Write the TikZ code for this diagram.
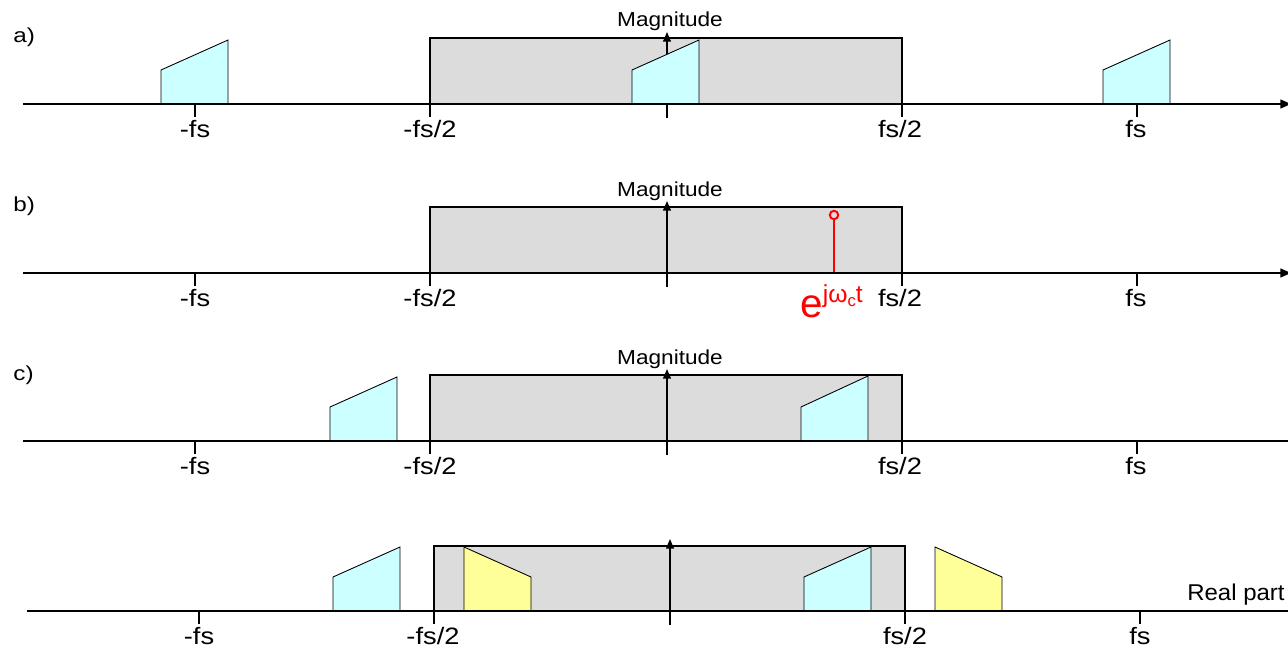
\documentclass[tikz,border=0pt]{standalone}
\usepackage{fontspec}
\setmainfont{Liberation Sans}
\usetikzlibrary{arrows.meta}
\definecolor{nyqfill}{HTML}{DCDCDC}
\definecolor{img}{HTML}{CCFFFF}
\definecolor{mir}{HTML}{FFFF99}
\definecolor{tone}{HTML}{FF0000}
\tikzset{
  nyq/.style={draw=black,line width=0.75pt,fill=nyqfill},
  ax/.style={line width=0.9pt},
  axar/.style={ax,-{Triangle[length=6pt,width=5pt]}},
  tk/.style={line width=0.8pt},
  mag/.style={line width=0.8pt,-{Triangle[length=5.5pt,width=4.5pt]}},
  up/.style={draw=black,line width=0.5pt,fill=img},
  dn/.style={draw=black,line width=0.5pt,fill=mir},
  tlbl/.style={anchor=base,inner sep=0pt,xscale=1.15,font=\fontsize{13.5}{13.5}\selectfont},
  maglbl/.style={anchor=base,inner sep=0pt,xscale=1.12,font=\fontsize{11.5}{11.5}\selectfont},
  tag/.style={anchor=base west,inner sep=0pt,xscale=1.2,font=\fontsize{11.5}{11.5}\selectfont},
}
\begin{document}
\begin{tikzpicture}[x=0.02cm,y=-0.02cm]
\useasboundingbox (0,0) rectangle (1288,652);

% a) sampled spectrum with images
\node[tag] (taga) at (13,43) {a)};
\draw[nyq] (430,38) rectangle (902,104);
\coordinate (ma0) at (667,118); \coordinate (ma1) at (667,32);
\draw[mag] (ma0) -- (ma1);
\node[maglbl] (maga) at (670,27) {Magnitude};
\draw[up] (161,104) -- (161,70) -- (228,40) -- (228,104) -- cycle;
\draw[up] (632,104) -- (632,70) -- (699,40) -- (699,104) -- cycle;
\draw[up] (1103,104) -- (1103,70) -- (1170,40) -- (1170,104) -- cycle;
\coordinate (xa0) at (23,104); \coordinate (xa1) at (1291,104);
\draw[axar] (xa0) -- (xa1);
\foreach \x in {195,430,667,902,1137} \draw[tk] (\x,104) -- ++(0,13);
\node[tlbl] (a1) at (195,137) {-fs};
\node[tlbl] (a2) at (430,137) {-fs/2};
\node[tlbl] (a3) at (900,137) {fs/2};
\node[tlbl] (a4) at (1136,137) {fs};

% b) complex tone
\node[tag] (tagb) at (13,211) {b)};
\draw[nyq] (430,207) rectangle (902,273);
\coordinate (mb0) at (667,287); \coordinate (mb1) at (667,201);
\draw[mag] (mb0) -- (mb1);
\node[maglbl] (magb) at (670,196) {Magnitude};
\coordinate (st0) at (834,273); \coordinate (st1) at (834,219);
\draw[tone,line width=1.5pt] (st0) -- (st1);
\draw[tone,line width=1.1pt] (834,215) circle[radius=2.4pt];
\coordinate (xb0) at (23,273); \coordinate (xb1) at (1291,273);
\draw[axar] (xb0) -- (xb1);
\foreach \x in {195,430,667,902,1137} \draw[tk] (\x,273) -- ++(0,13);
\node[tlbl] (b1) at (195,306) {-fs};
\node[tlbl] (b2) at (430,306) {-fs/2};
\node[tlbl] (b3) at (900,306) {fs/2};
\node[tlbl] (b4) at (1136,306) {fs};
\node[anchor=base west,inner sep=0pt,text=tone] (ejw) at (800,317)
  {\fontsize{23}{23}\selectfont e\raisebox{8pt}{\fontsize{14}{14}\selectfont jω\raisebox{-2.3pt}{\fontsize{9.5}{9.5}\selectfont c}t}};

% c) shifted spectrum
\node[tag] (tagc) at (13,380) {c)};
\draw[nyq] (430,375) rectangle (902,441);
\coordinate (mc0) at (667,455); \coordinate (mc1) at (667,369);
\draw[mag] (mc0) -- (mc1);
\node[maglbl] (magc) at (670,364) {Magnitude};
\draw[up] (330,441) -- (330,407) -- (397,377) -- (397,441) -- cycle;
\draw[up] (801,441) -- (801,407) -- (868,376) -- (868,441) -- cycle;
\coordinate (xc0) at (23,441); \coordinate (xc1) at (1288,441);
\draw[ax] (xc0) -- (xc1);
\foreach \x in {195,430,667,902,1137} \draw[tk] (\x,441) -- ++(0,13);
\node[tlbl] (c1) at (195,474) {-fs};
\node[tlbl] (c2) at (430,474) {-fs/2};
\node[tlbl] (c3) at (900,474) {fs/2};
\node[tlbl] (c4) at (1136,474) {fs};

% real part
\draw[nyq] (434,546) rectangle (905,611);
\coordinate (md0) at (670,625); \coordinate (md1) at (670,539);
\draw[mag] (md0) -- (md1);
\draw[up] (333,611) -- (333,577) -- (400,547) -- (400,611) -- cycle;
\draw[up] (804,611) -- (804,577) -- (871,547) -- (871,611) -- cycle;
\draw[dn] (464,611) -- (464,547) -- (531,577) -- (531,611) -- cycle;
\draw[dn] (935,611) -- (935,547) -- (1002,577) -- (1002,611) -- cycle;
\coordinate (xd0) at (27,611); \coordinate (xd1) at (1288,611);
\draw[ax] (xd0) -- (xd1);
\foreach \x in {199,434,670,905,1140} \draw[tk] (\x,611) -- ++(0,13);
\node[anchor=base east,inner sep=0pt,xscale=1.05,font=\fontsize{13}{13}\selectfont] (re) at (1285,600) {Real part};
\node[tlbl] (d1) at (199,644) {-fs};
\node[tlbl] (d2) at (433,644) {-fs/2};
\node[tlbl] (d3) at (905,644) {fs/2};
\node[tlbl] (d4) at (1140,644) {fs};
\end{tikzpicture}
\end{document}
